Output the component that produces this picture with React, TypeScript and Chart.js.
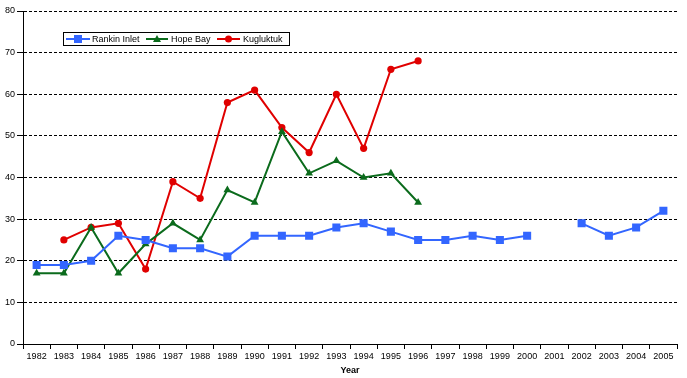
import React, { useEffect, useRef } from "react";
import { Chart, registerables } from "chart.js";

Chart.register(...registerables);

const years = ["1982","1983","1984","1985","1986","1987","1988","1989","1990","1991","1992","1993","1994","1995","1996","1997","1998","1999","2000","2001","2002","2003","2004","2005"];
const rankinInlet = [19,19,20,26,25,23,23,21,26,26,26,28,29,27,25,25,26,25,26,null,29,26,28,32];
const hopeBay = [17,17,28,17,24,29,25,37,34,51,41,44,40,41,34,null,null,null,null,null,null,null,null,null];
const kugluktuk = [null,25,28,29,18,39,35,58,61,52,46,60,47,66,68,null,null,null,null,null,null,null,null,null];

const BLUE = "#3366ff";
const GREEN = "#0b6b1c";
const RED = "#e00000";
const FONT = "'Liberation Sans', Arial, sans-serif";

const legendPlugin = {
  id: "boxLegend",
  afterDraw(chart: any) {
    const ctx = chart.ctx;
    ctx.save();
    ctx.fillStyle = "#fff";
    ctx.fillRect(63.5, 32.5, 226, 13);
    ctx.strokeStyle = "#000";
    ctx.lineWidth = 1;
    ctx.strokeRect(63.5, 32.5, 226, 13);
    const y = 39;
    const items = [
      { x1: 66, x2: 90, label: "Rankin Inlet", color: BLUE, shape: "rect", tx: 92 },
      { x1: 146, x2: 168, label: "Hope Bay", color: GREEN, shape: "tri", tx: 171 },
      { x1: 217, x2: 240, label: "Kugluktuk", color: RED, shape: "circle", tx: 243 },
    ];
    ctx.font = `9px ${FONT}`;
    ctx.textBaseline = "middle";
    for (const it of items) {
      ctx.strokeStyle = it.color;
      ctx.lineWidth = 2;
      ctx.beginPath();
      ctx.moveTo(it.x1, y);
      ctx.lineTo(it.x2, y);
      ctx.stroke();
      const cx = (it.x1 + it.x2) / 2;
      ctx.fillStyle = it.color;
      ctx.beginPath();
      if (it.shape === "rect") {
        ctx.rect(cx - 4, y - 4, 8, 8);
      } else if (it.shape === "tri") {
        ctx.moveTo(cx, y - 4);
        ctx.lineTo(cx + 4, y + 3);
        ctx.lineTo(cx - 4, y + 3);
        ctx.closePath();
      } else {
        ctx.arc(cx, y, 3.5, 0, Math.PI * 2);
      }
      ctx.fill();
      ctx.fillStyle = "#000";
      ctx.fillText(it.label, it.tx, y + 0.5);
    }
    ctx.restore();
  },
};

export default function App() {
  const ref = useRef<HTMLCanvasElement>(null);
  useEffect(() => {
    if (!ref.current) return;
    const chart = new Chart(ref.current, {
      type: "line",
      data: {
        labels: years,
        datasets: [
          {
            label: "Rankin Inlet",
            data: rankinInlet,
            borderColor: BLUE,
            backgroundColor: BLUE,
            borderWidth: 2,
            pointStyle: "rect",
            pointRadius: 5.7,
            pointBorderWidth: 0,
            tension: 0,
          },
          {
            label: "Hope Bay",
            data: hopeBay,
            borderColor: GREEN,
            backgroundColor: GREEN,
            borderWidth: 2,
            pointStyle: "triangle",
            pointRadius: 4.5,
            pointBorderWidth: 0,
            tension: 0,
          },
          {
            label: "Kugluktuk",
            data: kugluktuk,
            borderColor: RED,
            backgroundColor: RED,
            borderWidth: 2,
            pointStyle: "circle",
            pointRadius: 3.6,
            pointBorderWidth: 0,
            tension: 0,
          },
        ],
      },
      options: {
        responsive: false,
        animation: false,
        layout: { padding: { top: 11, right: 10, left: 0, bottom: 0 } },
        plugins: { legend: { display: false }, tooltip: { enabled: false } },
        scales: {
          x: {
            type: "category",
            offset: true,
            grid: { offset: true, drawOnChartArea: false, drawTicks: true, tickLength: 5, color: "#000", lineWidth: 1 },
            border: { display: true, color: "#000", width: 1 },
            ticks: { color: "#000", font: { family: FONT, size: 9 }, maxRotation: 0, autoSkip: false, padding: 2 },
            title: { display: true, text: "Year", color: "#000", font: { family: FONT, size: 9, weight: "bold" }, padding: { top: 0, bottom: 2 } },
            afterFit: (s: any) => { s.height = 34; },
          },
          y: {
            min: 0,
            max: 80,
            ticks: { stepSize: 10, color: "#000", font: { family: FONT, size: 9 }, padding: 2 },
            grid: { color: "#000", lineWidth: 1, drawTicks: true, tickLength: 6, tickColor: "#000", tickBorderDash: [] },
            border: { display: true, color: "#000", width: 1, dash: [3, 2] },
            afterFit: (s: any) => { s.width = 23; },
          },
        },
      },
      plugins: [legendPlugin],
    } as any);
    return () => chart.destroy();
  }, []);
  return (
    <div style={{ position: "fixed", left: 0, top: 0, width: 687, height: 378, background: "#fff" }}>
      <canvas ref={ref} width={687} height={378} style={{ display: "block" }} />
    </div>
  );
}
